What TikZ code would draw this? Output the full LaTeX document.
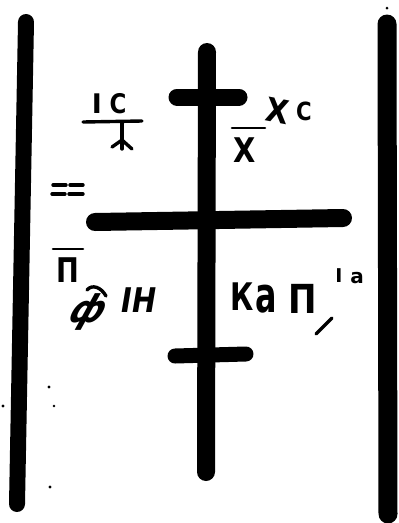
\documentclass[tikz,border=0pt]{standalone}
\usepackage{fontspec}
\setmainfont{DejaVu Sans}
\begin{document}
\begin{tikzpicture}[x=1pt,y=-1pt,
  sidebar/.style={line width=16pt,line cap=round},
  crossbar/.style={line width=18pt,line cap=round},
  pen/.style={line width=3.4pt,line cap=round},
  glyph/.style={inner sep=0pt,anchor=base},
  speck/.style={fill=black,draw=none}]
\useasboundingbox (0,0) rectangle (399,523);
% side bars
\draw[sidebar] (26,22) -- (17,504);
\draw[sidebar,line width=19pt] (387,24) -- (388,514);
\fill[speck] (387,8) circle (1.5);
% cross
\draw[crossbar] (207,52) -- (206,472);
\draw[crossbar,line width=17pt] (177,97) -- (239,97);
\draw[crossbar] (95,222) -- (343,218);
\draw[crossbar,line width=15pt] (175,356) -- (246,354);
% IC with mark
\node[glyph,font=\fontsize{27}{27}\bfseries\selectfont] (i1) at (97,113) {I};
\node[glyph,font=\fontsize{27}{27}\bfseries\selectfont,xscale=0.85] (c1) at (118,113) {C};
\draw[pen] (83,122) -- (142,121);
\draw[pen] (122,123) -- (122,149);
\draw[pen] (112,147) -- (122,140) -- (132,149);
% ==
\draw[pen] (53,185) -- (66,185) (70,185) -- (83,185);
\draw[pen] (52,194) -- (65,194) (69,194) -- (83,194);
% X bar and XC
\draw[pen,line width=2.6pt] (232,128) -- (265,128);
\node[glyph,font=\fontsize{34}{34}\bfseries\selectfont,xscale=0.85] (x1) at (245,162) {X};
\node[glyph,font=\fontsize{33}{33}\bfseries\selectfont,xscale=0.9,rotate=-10] (x2) at (276,123) {X};
\node[glyph,font=\fontsize{25}{25}\bfseries\selectfont,xscale=0.85] (c2) at (304,120) {C};
% П with bar
\draw[pen,line width=2.6pt] (53,249) -- (83,249);
\node[glyph,font=\fontsize{34}{34}\bfseries\selectfont,xscale=0.8] (p1) at (68,282) {П};
% ф with hat
\node[glyph,font=\fontsize{38}{38}\bfseries\selectfont,xslant=0.55,xscale=0.9] (f1) at (82,322) {ф};
\draw[pen] (87,290) .. controls (92,284) and (101,287) .. (106,296);
% IH
\node[glyph,font=\fontsize{34}{34}\bfseries\itshape\selectfont,xscale=0.85] (ih) at (139,312) {IH};
% Кап
\node[glyph,font=\fontsize{38}{38}\bfseries\selectfont,xscale=0.75] (k1) at (242,310) {К};
\node[glyph,font=\fontsize{49}{49}\bfseries\selectfont,xscale=0.65] (a1) at (266,312) {а};
\node[glyph,font=\fontsize{40}{40}\bfseries\selectfont,xscale=0.85] (p2) at (303,313) {П};
\draw[pen] (316,334) -- (332,318);
\node[glyph,font=\fontsize{19}{19}\bfseries\selectfont] (i2) at (339,282) {I};
\node[glyph,font=\fontsize{20}{20}\bfseries\selectfont] (a2) at (357,283) {а};
% specks
\fill[speck] (49,387) circle (1.6);
\fill[speck] (54,406) circle (1.3);
\fill[speck] (3,406) circle (1.6);
\fill[speck] (50,487) circle (1.6);
\end{tikzpicture}
\end{document}
